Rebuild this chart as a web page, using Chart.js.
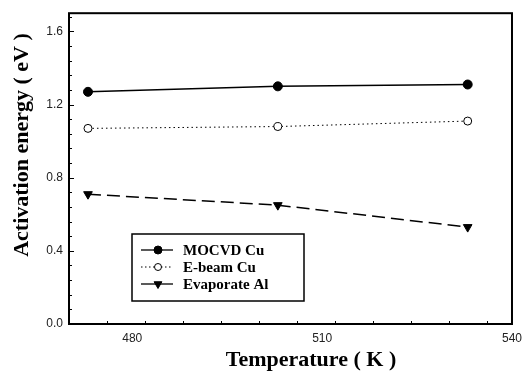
<!DOCTYPE html>
<html><head><meta charset="utf-8">
<script src="https://cdn.jsdelivr.net/npm/chart.js@4/dist/chart.umd.min.js"></script>
<style>html,body{margin:0;padding:0;background:#fff}</style>
</head><body>
<canvas id="c" width="529" height="374"></canvas>
<script>
// ---- data ----
const temperatures = [473, 503, 533];
const mocvdCu = [1.27, 1.30, 1.31];
const ebeamCu = [1.07, 1.08, 1.11];
const evaporateAl = [0.71, 0.65, 0.53];
const seriesNames = ['MOCVD Cu', 'E-beam Cu', 'Evaporate Al'];
const xTickValues = [480, 510, 540];
const yTickValues = [0.0, 0.4, 0.8, 1.2, 1.6];
const xTitle = 'Temperature ( K )';
const yTitle = 'Activation energy ( eV )';
const xRange = [470, 540];
const yRange = [0, 1.7];
const xMinorStep = 6;
const yMinorStep = 0.08;

const pts = (arr) => temperatures.map((t, i) => ({x: t, y: arr[i]}));
const titleFont = 'bold 22px "Liberation Serif", "Times New Roman", serif';

const frameAndTicks = {
  id: 'frameAndTicks',
  afterDraw(chart) {
    const {ctx, chartArea: a, scales: {x, y}} = chart;
    ctx.save();
    ctx.strokeStyle = '#000';
    ctx.lineWidth = 1;
    ctx.beginPath();
    for (let v = xRange[0]; v <= xRange[1] + 1e-9; v += xMinorStep) {
      const px = Math.round(x.getPixelForValue(v)) + 0.5;
      const major = xTickValues.some(t => Math.abs(t - v) < 1e-6);
      ctx.moveTo(px, a.bottom); ctx.lineTo(px, a.bottom - (major ? 5 : 3));
    }
    for (let v = yRange[0]; v <= yRange[1] + 1e-9; v += yMinorStep) {
      const py = Math.round(y.getPixelForValue(v)) + 0.5;
      const major = yTickValues.some(t => Math.abs(t - v) < 1e-6);
      ctx.moveTo(a.left, py); ctx.lineTo(a.left + (major ? 5 : 3), py);
    }
    ctx.stroke();
    ctx.lineWidth = 2;
    ctx.strokeRect(a.left, a.top, a.right - a.left, a.bottom - a.top);
    // axis titles (text taken from the scale options)
    ctx.fillStyle = '#000';
    ctx.font = titleFont;
    ctx.textAlign = 'center';
    ctx.textBaseline = 'middle';
    ctx.fillText(x.options.title.text, 311, 360);
    ctx.translate(22, 145);
    ctx.rotate(-Math.PI / 2);
    ctx.fillText(y.options.title.text, 0, 0);
    ctx.restore();
  }
};

const boxLegend = {
  id: 'boxLegend',
  afterDraw(chart) {
    const {ctx} = chart;
    const bx = 132, by = 234, bw = 172, bh = 67;
    ctx.save();
    ctx.fillStyle = '#fff';
    ctx.fillRect(bx, by, bw, bh);
    ctx.strokeStyle = '#000';
    ctx.lineWidth = 1.5;
    ctx.strokeRect(bx, by, bw, bh);
    const legendDash = [[], [1.5, 2.5], []];
    chart.data.datasets.forEach((ds, i) => {
      const yy = 250 + i * 17;
      ctx.beginPath();
      ctx.setLineDash(legendDash[i]);
      ctx.lineWidth = i === 1 ? 1 : 1.3;
      ctx.strokeStyle = '#000';
      ctx.moveTo(141, yy); ctx.lineTo(173, yy);
      ctx.stroke();
      ctx.setLineDash([]);
      ctx.fillStyle = ds.pointBackgroundColor;
      ctx.strokeStyle = ds.pointBorderColor;
      ctx.lineWidth = ds.pointBorderWidth;
      Chart.helpers.drawPoint(ctx, {pointStyle: ds.pointStyle, radius: ds.pointRadius - 0.5, rotation: ds.pointRotation || 0, borderWidth: ds.pointBorderWidth}, 158, yy);
      ctx.fillStyle = '#000';
      ctx.font = 'bold 15px "Liberation Serif", "Times New Roman", serif';
      ctx.textBaseline = 'middle';
      ctx.textAlign = 'left';
      ctx.fillText(ds.label, 183, yy + 1);
    });
    ctx.restore();
  }
};

new Chart(document.getElementById('c'), {
  type: 'line',
  data: {
    datasets: [
      {label: seriesNames[0], data: pts(mocvdCu), borderColor: '#000', borderWidth: 1.5,
       pointStyle: 'circle', pointRadius: 4.5, pointBackgroundColor: '#000', pointBorderColor: '#000', pointBorderWidth: 1},
      {label: seriesNames[1], data: pts(ebeamCu), borderColor: '#000', borderWidth: 1, borderDash: [1.5, 3],
       pointStyle: 'circle', pointRadius: 4, pointBackgroundColor: '#fff', pointBorderColor: '#000', pointBorderWidth: 1},
      {label: seriesNames[2], data: pts(evaporateAl), borderColor: '#000', borderWidth: 1.5, borderDash: [13, 6],
       pointStyle: 'triangle', pointRotation: 180, pointRadius: 5, pointBackgroundColor: '#000', pointBorderColor: '#000', pointBorderWidth: 1}
    ]
  },
  options: {
    responsive: false,
    animation: false,
    devicePixelRatio: 1,
    layout: {padding: {left: 0, top: 9, right: 16, bottom: 0}},
    plugins: {legend: {display: false}, tooltip: {enabled: false}},
    scales: {
      x: {
        type: 'linear', min: xRange[0], max: xRange[1],
        grid: {display: false, drawTicks: false}, border: {display: false},
        afterBuildTicks: s => { s.ticks = xTickValues.map(v => ({value: v})); },
        afterFit: s => { s.height = 50; },
        ticks: {font: {family: '"Liberation Sans", Arial, sans-serif', size: 12}, color: '#222', padding: 7, maxRotation: 0},
        title: {display: false, text: xTitle}
      },
      y: {
        type: 'linear', min: yRange[0], max: yRange[1],
        grid: {display: false, drawTicks: false}, border: {display: false},
        afterBuildTicks: s => { s.ticks = yTickValues.map(v => ({value: v})); },
        afterFit: s => { s.width = 69; },
        ticks: {font: {family: '"Liberation Sans", Arial, sans-serif', size: 12}, color: '#222', padding: 6,
                callback: v => Number(v).toFixed(1)},
        title: {display: false, text: yTitle}
      }
    }
  },
  plugins: [frameAndTicks, boxLegend]
});
</script>
</body></html>
